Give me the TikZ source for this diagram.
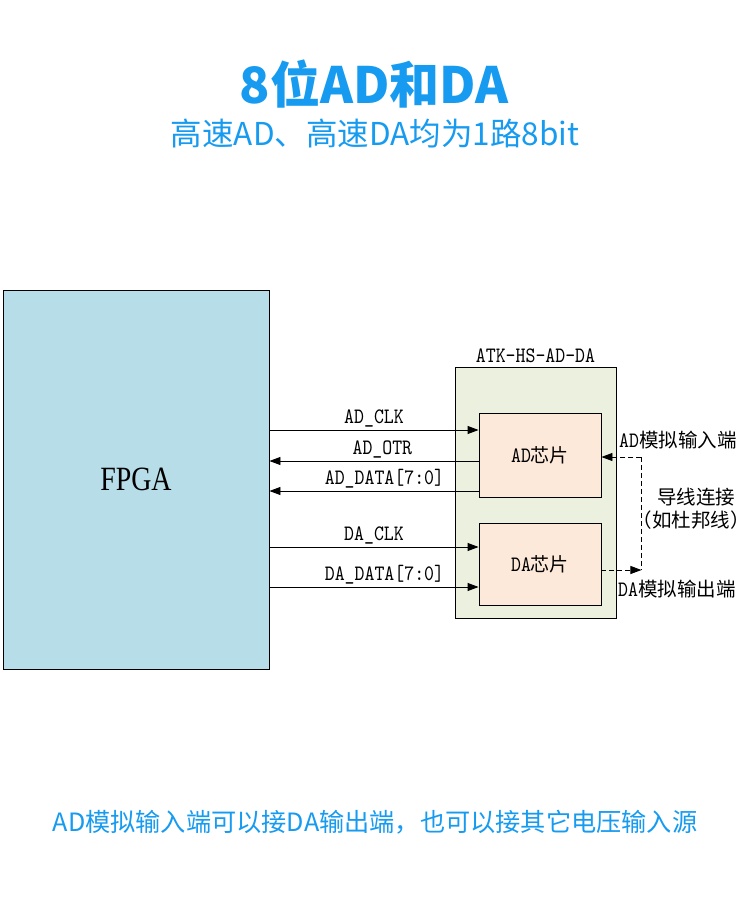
\documentclass[tikz,border=0pt]{standalone}
\usepackage{fontspec}
\setmainfont{Liberation Serif}[FakeStretch=0.82]
\newfontfamily\sigfont{lmmono10-regular.otf}[FakeStretch=0.86]
\newfontfamily\cjk{Noto Sans CJK SC}
\usepackage{xcolor}
\usetikzlibrary{positioning, arrows.meta}
\definecolor{titleblue}{RGB}{22,155,240}
\definecolor{fpgablue}{RGB}{183,221,232}
\definecolor{boardgreen}{RGB}{235,241,222}
\definecolor{chippink}{RGB}{253,233,217}
\begin{document}
\begin{tikzpicture}[x=1pt, y=-1pt]
\tikzstyle{block}  = [rectangle, draw=black, line width=0.9pt, inner sep=0pt]
\tikzstyle{chip}   = [block, fill=chippink, minimum width=122pt, minimum height=84pt, font=\sigfont\fontsize{22}{22}\selectfont]
\tikzstyle{sig}    = [line width=0.9pt, -{Triangle[length=11pt, width=8pt]}]
\tikzstyle{lbl}    = [font=\sigfont\fontsize{22}{22}\selectfont, inner sep=2pt]
\tikzstyle{wired}  = [dash pattern=on 5pt off 3pt]
\useasboundingbox[fill=white] (0,0) rectangle (750,900);
\node[font=\cjk\bfseries\fontsize{50}{50}\selectfont, text=titleblue] at (374, 84) (title){8位AD和DA};
\node[font=\cjk\fontsize{31.5}{31.5}\selectfont, text=titleblue] at (375, 134) (subtitle){高速AD、高速DA均为1路8bit};
\node[block, fill=fpgablue, minimum width=266pt, minimum height=379pt, font=\fontsize{34}{34}\selectfont] at (136, 479.5) (fpga){FPGA};
\node[block, fill=boardgreen, minimum width=161pt, minimum height=251pt] at (535.5, 492.5) (board){};
\node[lbl, above=2pt of board.north] (boardname){ATK-HS-AD-DA};
\node[chip] at (540, 455) (adchip){AD{\cjk\fontsize{19}{19}\selectfont 芯片}};
\node[chip, minimum height=82pt] at (540, 564) (dachip){DA{\cjk\fontsize{19}{19}\selectfont 芯片}};
\coordinate (adclk)  at ([yshift=25pt]adchip.west);
\coordinate (adotr)  at ([yshift=-6pt]adchip.west);
\coordinate (addata) at ([yshift=-36pt]adchip.west);
\coordinate (daclk)  at ([yshift=17pt]dachip.west);
\coordinate (dadata) at ([yshift=-23pt]dachip.west);
\draw[sig] (adclk -| fpga.east)  -- (adclk)  node[lbl, above, pos=0.5] {AD\_CLK};
\draw[sig] (adotr)  -- (adotr -| fpga.east)  node[lbl, above, pos=0.46] {AD\_OTR};
\draw[sig] (addata) -- (addata -| fpga.east) node[lbl, above, pos=0.45] {AD\_DATA[7:0]};
\draw[sig] (daclk -| fpga.east)  -- (daclk)  node[lbl, above, pos=0.5] {DA\_CLK};
\draw[sig] (dadata -| fpga.east) -- (dadata) node[lbl, above, pos=0.55] {DA\_DATA[7:0]};
\coordinate (anain)  at ([xshift=40pt, yshift=-2pt]adchip.east);
\coordinate (anaout) at ([xshift=40pt, yshift=-6pt]dachip.east);
\draw[sig, wired] (anain) -- (anain -| adchip.east);
\draw[line width=0.9pt, wired] (anain) -- (anaout);
\draw[sig, wired] (anaout -| dachip.east) -- (anaout);
\node[lbl, anchor=west, inner sep=0pt] at (619, 440) (inname){AD{\cjk\fontsize{19.5}{19.5}\selectfont 模拟输入端}};
\node[lbl, anchor=west, inner sep=0pt] at (618, 589) (outname){DA{\cjk\fontsize{19.5}{19.5}\selectfont 模拟输出端}};
\node[font=\cjk\fontsize{19.5}{19.5}\selectfont] at (696, 497) (wire){导线连接};
\node[font=\cjk\fontsize{19.5}{19.5}\selectfont] at (691, 520) (dupont){（如杜邦线）};
\node[font=\cjk\fontsize{25.2}{25.2}\selectfont, text=titleblue] at (375, 822) (footer){AD模拟输入端可以接DA输出端，也可以接其它电压输入源};
\end{tikzpicture}
\end{document}
